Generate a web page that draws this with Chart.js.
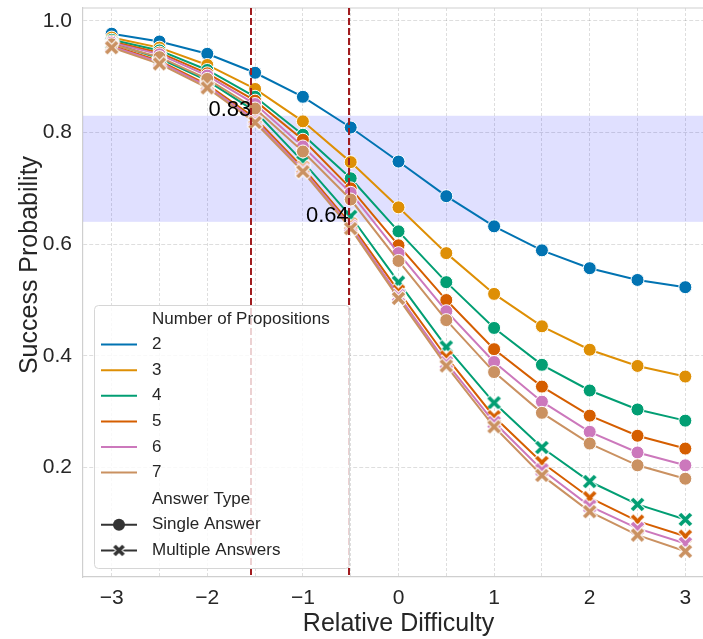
<!DOCTYPE html>
<html>
<head>
<meta charset="utf-8">
<script src="https://cdn.jsdelivr.net/npm/chart.js@4.4.0/dist/chart.umd.min.js"></script>
<style>
  html, body { margin: 0; padding: 0; background: #fff; overflow: hidden; }
  #wrap { width: 703px; height: 639px; overflow: hidden; }
</style>
</head>
<body>
<div id="wrap"><canvas id="chart" width="714" height="639"></canvas></div>
<script>
// relative difficulty grid the curves are evaluated on
const difficulty = [-3, -2.5, -2, -1.5, -1, -0.5, 0, 0.5, 1, 1.5, 2, 2.5, 3];
const propositions = ['2', '3', '4', '5', '6', '7'];
const palette = ['#0173b2', '#de8f05', '#029e73', '#d55e00', '#cc78bc', '#ca9161'];

// single answer curves, one per number of propositions
const single2 = [0.977, 0.963, 0.941, 0.907, 0.864, 0.809, 0.748, 0.686, 0.632, 0.589, 0.557, 0.536, 0.523];
const single3 = [0.970, 0.952, 0.921, 0.878, 0.820, 0.747, 0.666, 0.584, 0.511, 0.453, 0.411, 0.382, 0.363];
const single4 = [0.966, 0.947, 0.912, 0.864, 0.796, 0.718, 0.623, 0.532, 0.450, 0.384, 0.338, 0.304, 0.284];
const single5 = [0.963, 0.943, 0.906, 0.857, 0.787, 0.700, 0.598, 0.500, 0.412, 0.345, 0.293, 0.257, 0.234];
const single6 = [0.961, 0.940, 0.902, 0.851, 0.775, 0.692, 0.584, 0.480, 0.389, 0.318, 0.264, 0.227, 0.204];
const single7 = [0.958, 0.935, 0.896, 0.843, 0.766, 0.680, 0.570, 0.464, 0.371, 0.298, 0.243, 0.204, 0.180];

// multiple answers curves (only 4 to 7 propositions)
const multipleProps = ['4', '5', '6', '7'];
const multiple4 = [0.960, 0.933, 0.893, 0.838, 0.748, 0.650, 0.532, 0.416, 0.316, 0.236, 0.175, 0.134, 0.107];
const multiple5 = [0.956, 0.928, 0.886, 0.826, 0.737, 0.636, 0.516, 0.398, 0.291, 0.209, 0.146, 0.104, 0.077];
const multiple6 = [0.954, 0.926, 0.883, 0.822, 0.733, 0.632, 0.508, 0.388, 0.281, 0.196, 0.131, 0.091, 0.064];
const multiple7 = [0.952, 0.923, 0.880, 0.818, 0.730, 0.628, 0.503, 0.382, 0.273, 0.186, 0.121, 0.079, 0.050];

const xTicks = [-3, -2.5, -2, -1.5, -1, -0.5, 0, 0.5, 1, 1.5, 2, 2.5, 3];
const yTicks = [0.2, 0.4, 0.6, 0.8, 1.0];

// target success band and the difficulties where it is crossed
const bandRange = [0.64, 0.83];
const cutoffDifficulty = [-1.54, -0.52];
const cutoffLabels = ['0.83', '0.64'];
const cutoffLevel = [0.83, 0.64];

const singleSeries = [single2, single3, single4, single5, single6, single7];
const multipleSeries = [multiple4, multiple5, multiple6, multiple7];

const FONT = "'Liberation Sans', Arial, sans-serif";
const TEXT = '#262626';
const SPINE = '#cfcfcf';

// filled "X" marker with a white edge, like seaborn's X
function crossMarker(color, r, w) {
  const size = Math.ceil(2 * r + w + 6);
  const c = document.createElement('canvas');
  c.width = c.height = size;
  const g = c.getContext('2d');
  const m = size / 2;
  const strokeX = (col, lw, ext) => {
    g.strokeStyle = col;
    g.lineWidth = lw;
    g.lineCap = 'butt';
    g.beginPath();
    g.moveTo(m - r - ext, m - r - ext); g.lineTo(m + r + ext, m + r + ext);
    g.moveTo(m - r - ext, m + r + ext); g.lineTo(m + r + ext, m - r - ext);
    g.stroke();
  };
  strokeX('#fff', w + 2, 0.7);
  strokeX(color, w, 0);
  return c;
}

function lineSet(values, color, style) {
  return {
    data: values.map((y, k) => ({ x: difficulty[k], y: y })),
    borderColor: color,
    backgroundColor: color,
    borderWidth: 2,
    pointStyle: style,
    pointRadius: 6.5,
    pointHoverRadius: 6.5,
    pointBackgroundColor: color,
    pointBorderColor: '#fff',
    pointBorderWidth: 1,
    tension: 0
  };
}

const datasets = [];
propositions.forEach((p, i) => {
  datasets.push(lineSet(singleSeries[i], palette[i], 'circle'));
  const j = multipleProps.indexOf(p);
  if (j >= 0) datasets.push(lineSet(multipleSeries[j], palette[i], crossMarker(palette[i], 5.5, 3.8)));
});
// chart.js paints the first dataset on top, seaborn paints the last one on top
datasets.reverse();

const bandPlugin = {
  id: 'band',
  beforeDatasetsDraw(chart) {
    const { ctx, chartArea: a, scales: { y } } = chart;
    const top = y.getPixelForValue(bandRange[1]);
    const bottom = y.getPixelForValue(bandRange[0]);
    ctx.save();
    ctx.fillStyle = 'rgba(0, 0, 255, 0.12)';
    ctx.fillRect(a.left, top, a.right - a.left, bottom - top);
    // top spine
    ctx.strokeStyle = SPINE;
    ctx.lineWidth = 1.2;
    ctx.beginPath();
    ctx.moveTo(a.left, a.top);
    ctx.lineTo(a.right, a.top);
    ctx.stroke();
    ctx.restore();
  }
};

const cutoffPlugin = {
  id: 'cutoffs',
  afterDatasetsDraw(chart) {
    const { ctx, chartArea: a, scales: { x, y } } = chart;
    ctx.save();
    ctx.strokeStyle = '#a11c1f';
    ctx.lineWidth = 2;
    ctx.setLineDash([7, 3]);
    cutoffDifficulty.forEach(v => {
      const px = Math.round(x.getPixelForValue(v));
      ctx.beginPath();
      ctx.moveTo(px, a.top);
      ctx.lineTo(px, a.bottom);
      ctx.stroke();
    });
    ctx.setLineDash([]);
    ctx.fillStyle = '#000';
    ctx.font = '22px ' + FONT;
    ctx.textAlign = 'right';
    ctx.textBaseline = 'alphabetic';
    cutoffLabels.forEach((t, i) => {
      ctx.fillText(t, x.getPixelForValue(cutoffDifficulty[i]), y.getPixelForValue(cutoffLevel[i]));
    });
    ctx.restore();
  }
};

// y axis title, drawn by hand so it can sit where the figure has it
const yTitlePlugin = {
  id: 'yTitle',
  afterDraw(chart) {
    const ctx = chart.ctx;
    ctx.save();
    ctx.translate(30, 265);
    ctx.rotate(-Math.PI / 2);
    ctx.fillStyle = TEXT;
    ctx.font = '25px ' + FONT;
    ctx.textAlign = 'center';
    ctx.textBaseline = 'middle';
    ctx.fillText('Success Probability', 0, 0);
    ctx.restore();
  }
};

const legendPlugin = {
  id: 'boxLegend',
  afterDraw(chart) {
    const ctx = chart.ctx;
    const box = { x: 94, y: 305, w: 255, h: 263 };
    const rowH = 25.6;
    const handleX0 = 101, handleX1 = 137, textX = 152;
    ctx.save();
    ctx.fillStyle = 'rgba(255, 255, 255, 0.8)';
    ctx.strokeStyle = '#d6d6d6';
    ctx.lineWidth = 1;
    ctx.beginPath();
    ctx.roundRect(box.x + 0.5, box.y + 0.5, box.w, box.h, 4);
    ctx.fill();
    ctx.stroke();

    ctx.font = '17px ' + FONT;
    ctx.fillStyle = TEXT;
    ctx.textAlign = 'left';
    ctx.textBaseline = 'middle';
    let cy = 319;
    ctx.fillText('Number of Propositions', textX, cy);
    propositions.forEach((p, i) => {
      cy += rowH;
      ctx.strokeStyle = palette[i];
      ctx.lineWidth = 2;
      ctx.beginPath();
      ctx.moveTo(handleX0, cy);
      ctx.lineTo(handleX1, cy);
      ctx.stroke();
      ctx.fillStyle = TEXT;
      ctx.fillText(p, textX, cy);
    });
    cy += rowH + 1;
    ctx.fillText('Answer Type', textX, cy);
    const mid = (handleX0 + handleX1) / 2;
    ['Single Answer', 'Multiple Answers'].forEach((label, k) => {
      cy += rowH;
      ctx.strokeStyle = '#333';
      ctx.lineWidth = 2;
      ctx.beginPath();
      ctx.moveTo(handleX0, cy);
      ctx.lineTo(handleX1, cy);
      ctx.stroke();
      if (k === 0) {
        ctx.fillStyle = '#333';
        ctx.beginPath();
        ctx.arc(mid, cy, 6, 0, Math.PI * 2);
        ctx.fill();
      } else {
        const img = crossMarker('#333', 4.5, 3.6);
        ctx.drawImage(img, mid - img.width / 2, cy - img.height / 2);
      }
      ctx.fillStyle = TEXT;
      ctx.fillText(label, textX, cy);
    });
    ctx.restore();
  }
};

const gridColor = 'rgba(0, 0, 0, 0.13)';

new Chart(document.getElementById('chart'), {
  type: 'line',
  data: { datasets: datasets },
  options: {
    responsive: false,
    animation: false,
    events: [],
    layout: { autoPadding: false, padding: { top: 8, right: 0, bottom: 0, left: 0 } },
    plugins: { legend: { display: false }, tooltip: { enabled: false } },
    scales: {
      x: {
        type: 'linear',
        min: -3.3,
        max: 3.3,
        afterBuildTicks: s => { s.ticks = xTicks.map(v => ({ value: v })); },
        afterFit: s => { s.height = 62; s.paddingLeft = 0; s.paddingRight = 0; },
        ticks: {
          autoSkip: false,
          maxRotation: 0,
          padding: 9,
          color: TEXT,
          font: { family: FONT, size: 21 },
          callback: v => Number.isInteger(v) ? (v < 0 ? '\u2212' + Math.abs(v) : String(v)) : ''
        },
        grid: { color: gridColor, lineWidth: 1, drawTicks: false },
        border: { color: SPINE, width: 1.2, dash: [3, 2] },
        title: {
          display: true,
          text: 'Relative Difficulty',
          color: TEXT,
          font: { family: FONT, size: 25 },
          padding: { top: 0, bottom: 0 }
        }
      },
      y: {
        min: 0.004,
        max: 1.023,
        afterBuildTicks: s => { s.ticks = yTicks.map(v => ({ value: v })); },
        afterFit: s => { s.width = 83; s.paddingTop = 0; s.paddingBottom = 0; },
        ticks: {
          padding: 11,
          color: TEXT,
          font: { family: FONT, size: 21 },
          callback: v => v.toFixed(1)
        },
        grid: { color: gridColor, lineWidth: 1, drawTicks: false },
        border: { color: SPINE, width: 1.2, dash: [4, 2] }
      }
    }
  },
  plugins: [bandPlugin, cutoffPlugin, yTitlePlugin, legendPlugin]
});
</script>
</body>
</html>
